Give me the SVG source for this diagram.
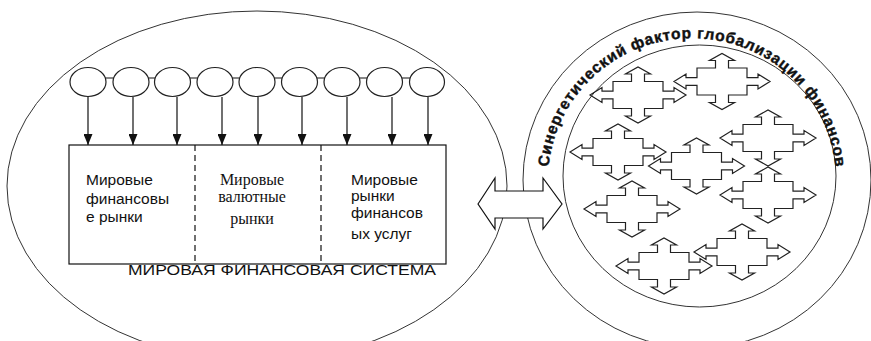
<svg xmlns="http://www.w3.org/2000/svg" xmlns:xlink="http://www.w3.org/1999/xlink" width="871" height="341" viewBox="0 0 871 341">
<style>
.ol{fill:none;stroke:#333;stroke-width:1}
.node{fill:#fff;stroke:#222;stroke-width:1.2}
.sans{font-family:"Liberation Sans",Arial,sans-serif;font-size:15.5px;fill:#111}
.serif{font-family:"Liberation Serif","Times New Roman",serif;font-size:16px;fill:#111}
.cross{fill:none;stroke:#222;stroke-width:1.2;stroke-linejoin:miter}
.conn{stroke:#111;stroke-width:1.2;fill:none}
</style>
<defs>
<marker id="ah" markerUnits="userSpaceOnUse" markerWidth="11" markerHeight="9" refX="11" refY="4.5" orient="auto" viewBox="0 0 11 9">
<path d="M0,0 L11,4.5 L0,9 Z" fill="#111"/>
</marker>
<path id="crossShape" d="M-48,0 L-36,-7.5 L-36,-3.8 L-25,-3.8 L-25,-13.5 L-6.5,-13.5 L-6.5,-21 L-12.5,-21 L0,-28 L12.5,-21 L6.5,-21 L6.5,-13.5 L25,-13.5 L25,-3.8 L36,-3.8 L36,-7.5 L48,0 L36,7.5 L36,3.8 L25,3.8 L25,13.5 L6.5,13.5 L6.5,21 L12.5,21 L0,28 L-12.5,21 L-6.5,21 L-6.5,13.5 L-25,13.5 L-25,3.8 L-36,3.8 L-36,7.5 Z"/>
<path id="arcText" d="M549.4,200 A144,142 0 1,1 834.6,200"/>
</defs>

<g id="world-system">
<ellipse class="ol" cx="257" cy="186" rx="250" ry="175"/>
<text class="sans" x="128" y="275" textLength="308" lengthAdjust="spacingAndGlyphs">МИРОВАЯ ФИНАНСОВАЯ СИСТЕМА</text>
</g>

<g id="synergy">
<ellipse class="ol" cx="697" cy="180" rx="174" ry="168"/>
<ellipse class="ol" cx="699.5" cy="176" rx="136.5" ry="131"/>
<text font-family="'Liberation Sans',Arial,sans-serif" font-size="15.5" font-weight="bold" fill="#111" stroke="#111" stroke-width="0.4" letter-spacing="0.8"><textPath href="#arcText" startOffset="33">Синергетический фактор глобализации финансов</textPath></text>
</g>

<g id="crosses">
<use href="#crossShape" class="cross" transform="translate(638,95)"/>
<use href="#crossShape" class="cross" transform="translate(722,81.5)"/>
<use href="#crossShape" class="cross" transform="translate(618,152)"/>
<use href="#crossShape" class="cross" transform="translate(696.5,166)"/>
<use href="#crossShape" class="cross" transform="translate(768,138)"/>
<use href="#crossShape" class="cross" transform="translate(768,195)"/>
<use href="#crossShape" class="cross" transform="translate(632,209)"/>
<use href="#crossShape" class="cross" transform="translate(664,266)"/>
<use href="#crossShape" class="cross" transform="translate(742,252)"/>
</g>

<g id="connectors">
<line class="conn" x1="88" y1="78" x2="427" y2="78"/>
<line class="conn" x1="88" y1="97" x2="88" y2="145" marker-end="url(#ah)"/>
<line class="conn" x1="133" y1="97" x2="133" y2="145" marker-end="url(#ah)"/>
<line class="conn" x1="177" y1="97" x2="177" y2="145" marker-end="url(#ah)"/>
<line class="conn" x1="222" y1="97" x2="222" y2="145" marker-end="url(#ah)"/>
<line class="conn" x1="258" y1="97" x2="258" y2="145" marker-end="url(#ah)"/>
<line class="conn" x1="302" y1="97" x2="302" y2="145" marker-end="url(#ah)"/>
<line class="conn" x1="347" y1="97" x2="347" y2="145" marker-end="url(#ah)"/>
<line class="conn" x1="392" y1="97" x2="392" y2="145" marker-end="url(#ah)"/>
<line class="conn" x1="428" y1="97" x2="428" y2="145" marker-end="url(#ah)"/>
<path id="double-arrow" d="M478,204 L495,178 L495,191 L543,191 L543,178 L562,204 L543,229 L543,218 L495,218 L495,229 Z" fill="#fff" stroke="#111" stroke-width="1.2"/>
</g>

<g id="sources">
<ellipse class="node" cx="88" cy="82" rx="18" ry="14.5"/>
<ellipse class="node" cx="131" cy="82" rx="18" ry="14.5"/>
<ellipse class="node" cx="172.5" cy="82" rx="18" ry="14.5"/>
<ellipse class="node" cx="215" cy="82" rx="18" ry="14.5"/>
<ellipse class="node" cx="257" cy="82" rx="18" ry="14.5"/>
<ellipse class="node" cx="299.5" cy="82" rx="18" ry="14.5"/>
<ellipse class="node" cx="342" cy="82" rx="18" ry="14.5"/>
<ellipse class="node" cx="384.5" cy="82" rx="18" ry="14.5"/>
<ellipse class="node" cx="427" cy="82" rx="17.5" ry="14.5"/>
</g>

<g id="markets">
<rect x="69" y="145" width="377" height="119" fill="#fff" stroke="#111" stroke-width="1.2"/>
<line x1="195" y1="145" x2="195" y2="264" stroke="#111" stroke-width="1.2" stroke-dasharray="6,4"/>
<line x1="321" y1="145" x2="321" y2="264" stroke="#111" stroke-width="1.2" stroke-dasharray="6,4"/>
</g>

<g id="financial-markets">
<text class="sans" x="86" y="185">Мировые</text>
<text class="sans" x="86" y="204">финансовы</text>
<text class="sans" x="86" y="222">е рынки</text>
</g>

<g id="currency-markets">
<text class="serif" x="252" y="185" text-anchor="middle">Мировые</text>
<text class="serif" x="252" y="202" text-anchor="middle">валютные</text>
<text class="serif" x="252" y="224" text-anchor="middle">рынки</text>
</g>

<g id="services-markets">
<text class="sans" x="351" y="185">Мировые</text>
<text class="sans" x="351" y="201">рынки</text>
<text class="sans" x="351" y="218">финансов</text>
<text class="sans" x="351" y="239">ых услуг</text>
</g>
</svg>
